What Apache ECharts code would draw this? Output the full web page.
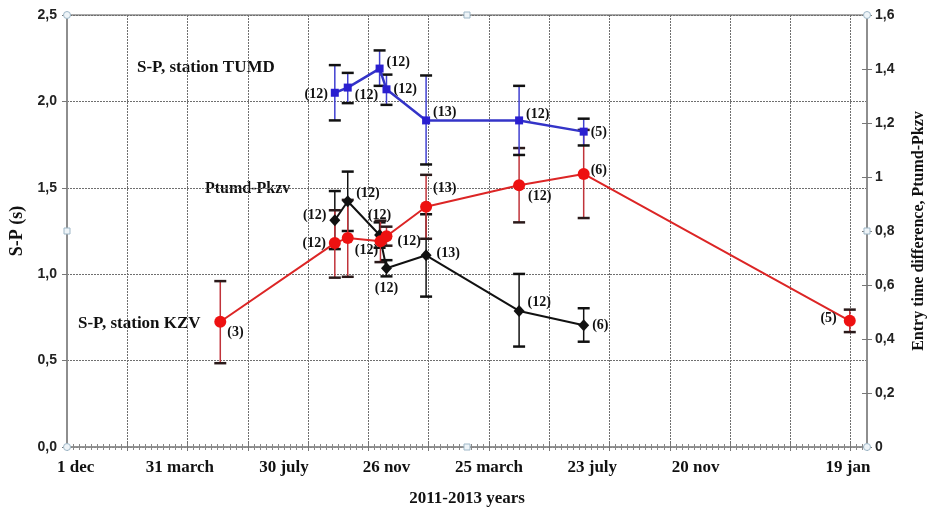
<!DOCTYPE html>
<html>
<head>
<meta charset="utf-8">
<script src="https://cdn.jsdelivr.net/npm/echarts@6/dist/echarts.min.js"></script>
<style>html,body{margin:0;padding:0;background:#fff}#c{width:932px;height:511px}</style>
</head>
<body>
<div id="c"></div>
<script>
// x values: days counted from the left edge of the axis (21 Nov 2011)
const tickLabels = ['1 dec', '31 march', '30 july', '26 nov', '25 march', '23 july', '20 nov', '19 jan'];
const tickDays = [10, 131, 252, 371, 490, 610, 730, 907];

// S-P, station TUMD (left axis, s)
const tumdDays = [311, 326, 363, 371, 417, 525, 600];
const tumdValues = [2.05, 2.08, 2.19, 2.07, 1.89, 1.89, 1.825];
const tumdLow = [1.89, 1.99, 2.09, 1.98, 1.635, 1.69, 1.745];
const tumdHigh = [2.21, 2.165, 2.295, 2.155, 2.15, 2.09, 1.90];
const tumdCounts = [12, 12, 12, 12, 13, 12, 5];

// S-P, station KZV (left axis, s)
const kzvDays = [178, 311, 326, 364, 371, 417, 525, 600, 909];
const kzvValues = [0.725, 1.18, 1.21, 1.19, 1.22, 1.39, 1.515, 1.58, 0.73];
const kzvLow = [0.485, 0.98, 0.985, 1.07, 1.165, 1.205, 1.30, 1.325, 0.665];
const kzvHigh = [0.96, 1.37, 1.43, 1.31, 1.275, 1.575, 1.73, 1.835, 0.795];
const kzvCounts = [3, 12, 12, null, 12, 13, 12, 6, 5];

// Ptumd-Pkzv (right axis)
const diffDays = [311, 326, 363, 371, 417, 525, 600];
const diffValues = [0.84, 0.91, 0.785, 0.662, 0.71, 0.504, 0.451];
const diffLow = [0.733, 0.80, 0.738, 0.632, 0.557, 0.372, 0.39];
const diffHigh = [0.948, 1.02, 0.832, 0.692, 0.862, 0.641, 0.514];
const diffCounts = [12, 12, 12, 12, 13, 12, 6];

// label placement (layout only)
const tumdLabelPos = [['left',[0,2]],['right',[0,8]],['right',[0,-6]],['right',[0,0]],['right',[0,-8]],['right',[0,-6]],['right',[0,1]]];
const kzvLabelPos = [['right',[-2,11]],['left',[0,0]],['right',[-2,12]],['right',[0,0]],['right',[2,5]],['right',[-2,-18]],['right',[0,11]],['right',[-2,-4]],['left',[-4,-2]]];
const diffLabelPos = [['left',[0,-5]],['right',[0,-8]],['top',[0,-4]],['bottom',[0,4]],['right',[2,-2]],['right',[0,-9]],['right',[0,0]]];

const SERIF = 'Liberation Serif';
const SANS = 'Liberation Sans';
const countStyle = {fontFamily: SERIF, fontWeight: 'bold', fontSize: 14, color: '#111'};

function points(days, vals, counts, pos) {
  return days.map((d, i) => ({
    value: [d, vals[i]],
    label: counts[i] == null ? {show: false} : {show: true, position: pos[i][0], offset: pos[i][1], distance: 3, formatter: '(' + counts[i] + ')'}
  }));
}
function bars(days, lo, hi) { return days.map((d, i) => [d, lo[i], hi[i]]); }
function errRender(lineColor, capColor, lw) {
  return function (params, api) {
    const x = api.value(0);
    const p1 = api.coord([x, api.value(1)]);
    const p2 = api.coord([x, api.value(2)]);
    const w = 6;
    return {type: 'group', children: [
      {type: 'line', shape: {x1: p1[0], y1: p1[1], x2: p2[0], y2: p2[1]}, style: {stroke: lineColor, lineWidth: lw}},
      {type: 'line', shape: {x1: p1[0] - w, y1: p1[1], x2: p1[0] + w, y2: p1[1]}, style: {stroke: capColor, lineWidth: 2.5}},
      {type: 'line', shape: {x1: p2[0] - w, y1: p2[1], x2: p2[0] + w, y2: p2[1]}, style: {stroke: capColor, lineWidth: 2.5}}
    ]};
  };
}
const fmtLeft = v => v.toFixed(1).replace('.', ',');
const fmtRight = v => (Math.abs(v) < 1e-9 ? '0' : Math.abs(v - 1) < 1e-9 ? '1' : v.toFixed(1).replace('.', ','));

const chart = echarts.init(document.getElementById('c'));
const axisGray = '#8e8e8e';
const gridLine = {show: true, lineStyle: {color: '#6f6f6f', type: [2, 1], width: 1}};
const G = {left: 67, right: 65, top: 15, bottom: 64};
const W = 932, H = 511;
const gx0 = G.left, gx1 = W - G.right, gy0 = G.top, gy1 = H - G.bottom;
function handle(x, y, square) {
  return square
    ? {type: 'rect', shape: {x: x - 3, y: y - 3, width: 6, height: 6}, style: {fill: '#eef4f8', stroke: '#9fb8c8', lineWidth: 1}, z: 10}
    : {type: 'circle', shape: {cx: x, cy: y, r: 3.5}, style: {fill: '#eef4f8', stroke: '#9fb8c8', lineWidth: 1}, z: 10};
}
const option = {
  animation: false,
  backgroundColor: '#fff',
  grid: {left: G.left, right: G.right, top: G.top, bottom: G.bottom, containLabel: false, outerBoundsMode: 'none',
    show: true, borderColor: axisGray, borderWidth: 1.5},
  xAxis: [{
    type: 'value', min: 0, max: 929, interval: 70,
    name: '2011-2013 years', nameLocation: 'middle', nameGap: 43,
    nameTextStyle: {fontFamily: SERIF, fontWeight: 'bold', fontSize: 17, color: '#111'},
    axisLine: {show: true, onZero: false, lineStyle: {color: axisGray, width: 1.5}},
    axisTick: {show: true, length: 4, lineStyle: {color: '#777'}},
    minorTick: {show: true, splitNumber: 10, length: 3, lineStyle: {color: '#888'}},
    splitLine: gridLine,
    axisLabel: {
      customValues: tickDays, margin: 12,
      formatter: v => { const i = tickDays.indexOf(v); return i >= 0 ? tickLabels[i] : ''; },
      fontFamily: SERIF, fontWeight: 'bold', fontSize: 17, color: '#111'
    }
  }, {
    type: 'value', min: 0, max: 929, interval: 70, position: 'bottom',
    axisLine: {show: false, onZero: false}, axisLabel: {show: false}, splitLine: {show: false},
    axisTick: {show: true, inside: true, length: 4, lineStyle: {color: '#777'}},
    minorTick: {show: true, splitNumber: 10, length: 3, lineStyle: {color: '#888'}}
  }],
  yAxis: [{
    type: 'value', min: 0, max: 2.5, interval: 0.5, position: 'left',
    name: 'S-P (s)', nameLocation: 'middle', nameGap: 41,
    nameTextStyle: {fontFamily: SERIF, fontWeight: 'bold', fontSize: 18, color: '#111'},
    axisLine: {show: true, onZero: false, lineStyle: {color: axisGray, width: 2}},
    axisTick: {show: true, length: 5, lineStyle: {color: '#777'}},
    splitLine: gridLine,
    axisLabel: {formatter: fmtLeft, fontFamily: SANS, fontWeight: 'bold', fontSize: 14, color: '#222', margin: 10}
  }, {
    type: 'value', min: 0, max: 1.6, interval: 0.2, position: 'right',
    name: 'Entry time difference, Ptumd-Pkzv', nameLocation: 'middle', nameGap: 44, nameRotate: 90,
    nameTextStyle: {fontFamily: SERIF, fontWeight: 'bold', fontSize: 16, color: '#111'},
    axisLine: {show: true, onZero: false, lineStyle: {color: axisGray, width: 2}},
    axisTick: {show: true, length: 5, lineStyle: {color: '#777'}},
    splitLine: {show: false},
    axisLabel: {formatter: fmtRight, fontFamily: SANS, fontWeight: 'bold', fontSize: 14, color: '#222', margin: 8}
  }, {
    type: 'value', min: 0, max: 1.6, interval: 0.2, position: 'right',
    axisLine: {show: false, onZero: false}, axisLabel: {show: false}, splitLine: {show: false},
    axisTick: {show: true, inside: true, length: 5, lineStyle: {color: '#777'}}
  }],
  series: [
    {type: 'custom', yAxisIndex: 1, renderItem: errRender('#111', '#111', 1.5), data: bars(diffDays, diffLow, diffHigh), encode: {x: 0, y: [1, 2]}, z: 1},
    {type: 'custom', yAxisIndex: 0, renderItem: errRender('#c0333a', '#2a1a1a', 1.5), data: bars(kzvDays, kzvLow, kzvHigh), encode: {x: 0, y: [1, 2]}, z: 1},
    {type: 'custom', yAxisIndex: 0, renderItem: errRender('#4040d0', '#111', 1.5), data: bars(tumdDays, tumdLow, tumdHigh), encode: {x: 0, y: [1, 2]}, z: 1},
    {type: 'line', name: 'Ptumd-Pkzv', yAxisIndex: 1, data: points(diffDays, diffValues, diffCounts, diffLabelPos),
      symbol: 'diamond', symbolSize: [11, 12], lineStyle: {color: '#111', width: 2}, itemStyle: {color: '#111'},
      label: countStyle, z: 3},
    {type: 'line', name: 'KZV', yAxisIndex: 0, data: points(kzvDays, kzvValues, kzvCounts, kzvLabelPos),
      symbol: 'circle', symbolSize: 12, lineStyle: {color: '#dc2525', width: 2}, itemStyle: {color: '#ee1111'},
      label: countStyle, z: 4},
    {type: 'line', name: 'TUMD', yAxisIndex: 0, data: points(tumdDays, tumdValues, tumdCounts, tumdLabelPos),
      symbol: 'rect', symbolSize: 8, lineStyle: {color: '#3434c8', width: 2.5}, itemStyle: {color: '#2a1fd0'},
      label: countStyle, z: 5}
  ],
  graphic: [
    {type: 'text', left: 137, top: 59, style: {text: 'S-P, station TUMD', fontFamily: SERIF, fontWeight: 'bold', fontSize: 17, fill: '#111'}},
    {type: 'text', left: 205, top: 181, style: {text: 'Ptumd-Pkzv', fontFamily: SERIF, fontWeight: 'bold', fontSize: 16, fill: '#111'}},
    {type: 'text', left: 78, top: 315, style: {text: 'S-P, station KZV', fontFamily: SERIF, fontWeight: 'bold', fontSize: 17, fill: '#111'}},
    handle(gx0, gy0, false), handle(gx1, gy0, false), handle(gx0, gy1, false), handle(gx1, gy1, false),
    handle(gx0, (gy0 + gy1) / 2, true), handle(gx1, (gy0 + gy1) / 2, true),
    handle((gx0 + gx1) / 2, gy0, true), handle((gx0 + gx1) / 2, gy1, true)
  ]
};
chart.setOption(option);
</script>
</body>
</html>
